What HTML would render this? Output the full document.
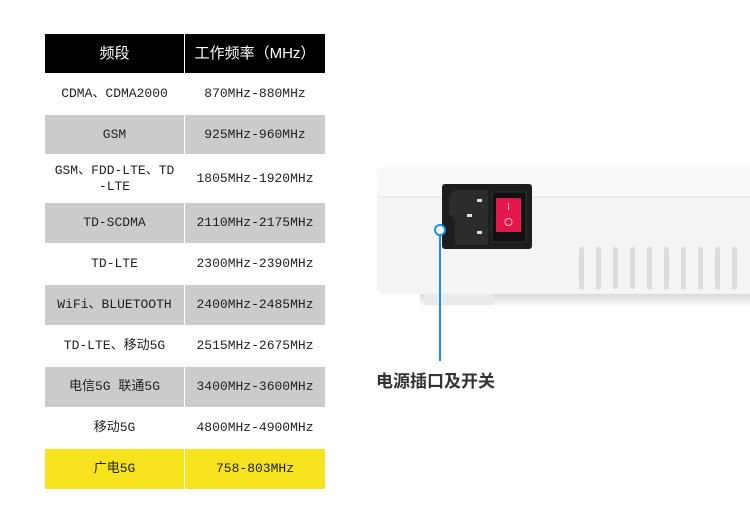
<!DOCTYPE html>
<html><head><meta charset="utf-8"><style>
body{margin:0;width:750px;height:531px;background:#fff;position:relative;overflow:hidden;font-family:"Liberation Mono","Noto Sans CJK SC",monospace;}
table{position:absolute;left:44px;top:33px;border-collapse:collapse;width:282px;}
td{text-align:center;font-size:13px;color:#222;border:1px solid #fff;padding:0;line-height:16px;}
td:first-child{width:139px}
tr.h td{background:#000;color:#fff;font-size:15px;height:39px;font-family:"Liberation Sans","Noto Sans CJK SC",sans-serif}
tr.g td{background:#cbcbcb}
tr.y td{background:#f6e31e}
.dev{position:absolute}
</style></head><body>
<table>
<tr class="h"><td>频段</td><td>工作频率（MHz）</td></tr>
<tr style="height:41px"><td>CDMA、CDMA2000</td><td>870MHz-880MHz</td></tr>
<tr class="g" style="height:40px"><td>GSM</td><td>925MHz-960MHz</td></tr>
<tr style="height:48px"><td>GSM、FDD-LTE、TD<br>-LTE</td><td>1805MHz-1920MHz</td></tr>
<tr class="g" style="height:41px"><td>TD-SCDMA</td><td>2110MHz-2175MHz</td></tr>
<tr style="height:41px"><td>TD-LTE</td><td>2300MHz-2390MHz</td></tr>
<tr class="g" style="height:41px"><td>WiFi、BLUETOOTH</td><td>2400MHz-2485MHz</td></tr>
<tr style="height:41px"><td>TD-LTE、移动5G</td><td>2515MHz-2675MHz</td></tr>
<tr class="g" style="height:41px"><td>电信5G 联通5G</td><td>3400MHz-3600MHz</td></tr>
<tr style="height:41px"><td>移动5G</td><td>4800MHz-4900MHz</td></tr>
<tr class="y" style="height:41px"><td>广电5G</td><td>758-803MHz</td></tr>
</table>
<svg class="dev" style="left:0;top:0" width="750" height="531">
<defs><linearGradient id="s" x1="0" y1="0" x2="0" y2="1"><stop offset="0" stop-color="#d8d8d8"/><stop offset="1" stop-color="#fff"/></linearGradient></defs>
<rect x="420" y="293" width="330" height="14" fill="url(#s)"/>
<rect x="424" y="293" width="70" height="12" rx="3" fill="#eaeaea"/>
<rect x="377" y="167" width="380" height="127" rx="8" fill="#f4f4f4"/>
<rect x="377" y="167" width="380" height="30" rx="8" fill="#f9f9f9"/>
<line x1="378" y1="197" x2="750" y2="197" stroke="#e0e0e0"/>
<rect x="442" y="184" width="90" height="65" rx="3" fill="#1e1e1e"/>
<path d="M455 190 H488 V245 H455 V220 L449 214 V196 Z" fill="#2c2c2c"/>
<rect x="477" y="199" width="5" height="3" fill="#ddd"/><rect x="467" y="214" width="5" height="3" fill="#ddd"/><rect x="477" y="231" width="5" height="3" fill="#ddd"/>
<rect x="492" y="192" width="34" height="50" fill="#111" stroke="#333"/>
<rect x="496" y="198" width="25" height="34" fill="#e3174d"/>
<line x1="508.5" y1="203" x2="508.5" y2="210" stroke="#fbb" stroke-width="1"/>
<circle cx="508.5" cy="222" r="3.5" fill="none" stroke="#fbb"/>
<g fill="#dcdcdc">
<rect x="579" y="247" width="5" height="42" rx="2"/><rect x="596" y="247" width="5" height="42" rx="2"/><rect x="613" y="247" width="5" height="42" rx="2"/><rect x="630" y="247" width="5" height="42" rx="2"/><rect x="647" y="247" width="5" height="42" rx="2"/><rect x="664" y="247" width="5" height="42" rx="2"/><rect x="681" y="247" width="5" height="42" rx="2"/><rect x="698" y="247" width="5" height="42" rx="2"/><rect x="715" y="247" width="5" height="42" rx="2"/><rect x="732" y="247" width="5" height="42" rx="2"/>
</g>
<line x1="440" y1="235" x2="440" y2="361" stroke="#1a8fe0" stroke-width="2"/>
<circle cx="440" cy="230" r="5" fill="#fff" stroke="#1a8fe0" stroke-width="2"/>
<text x="376" y="387" font-family="Liberation Sans,Noto Sans CJK SC,sans-serif" font-size="17" font-weight="bold" fill="#333">电源插口及开关</text>
</svg>
</body></html>
